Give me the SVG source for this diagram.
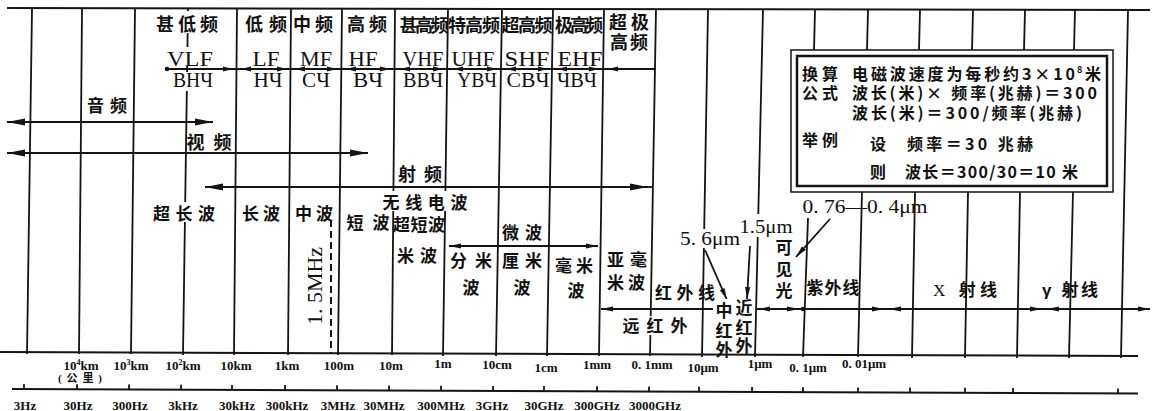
<svg xmlns="http://www.w3.org/2000/svg" width="1153" height="411" viewBox="0 0 1153 411">
<style>
.ln{stroke:#141414;stroke-width:1.8;fill:none}
.ax{stroke:#141414;stroke-width:2;fill:none}
.ds{stroke:#141414;stroke-width:2;fill:none;stroke-dasharray:7 4}
.bg{fill:#fff}
.cj{font-family:"Liberation Sans","Noto Sans CJK SC",sans-serif;font-weight:700;fill:#111;text-anchor:middle;font-size:18px}
.c17{font-size:17px}
.se{font-family:"Liberation Serif",serif;fill:#111;text-anchor:middle}
.sb{font-family:"Liberation Serif","Noto Sans CJK SC",serif;font-weight:700;fill:#111;text-anchor:middle;font-size:13px}
.bx{font-family:"Noto Sans CJK SC",sans-serif;font-weight:700;fill:#111;font-size:16px}
</style>
<defs>
<marker id="mb" markerUnits="userSpaceOnUse" markerWidth="18" markerHeight="8" refX="18" refY="4" orient="auto-start-reverse" viewBox="0 0 18 8"><path d="M0,0.6 L18,4 L0,7.4 Z" fill="#141414"/></marker>
<marker id="mm" markerUnits="userSpaceOnUse" markerWidth="12" markerHeight="6" refX="12" refY="3" orient="auto-start-reverse" viewBox="0 0 12 6"><path d="M0,0.4 L12,3 L0,5.6 Z" fill="#141414"/></marker>
<marker id="ms" markerUnits="userSpaceOnUse" markerWidth="10" markerHeight="6" refX="10" refY="3" orient="auto-start-reverse" viewBox="0 0 10 6"><path d="M0,0.5 L10,3 L0,5.5 Z" fill="#141414"/></marker>
</defs>

<g id="grid">
<line class="ax" x1="7" y1="8" x2="1150" y2="10"/>
<line class="ln" x1="32" y1="9" x2="27" y2="354"/>
<line class="ln" x1="82" y1="9" x2="79" y2="354"/>
<line class="ln" x1="135" y1="9" x2="131" y2="354"/>
<line class="ln" x1="188" y1="9" x2="183" y2="355"/>
<line class="ln" x1="237" y1="9" x2="234" y2="355"/>
<line class="ln" x1="291" y1="9" x2="288" y2="355"/>
<line class="ln" x1="342" y1="9" x2="338" y2="355"/>
<line class="ln" x1="395" y1="9" x2="392" y2="355"/>
<line class="ln" x1="448" y1="9" x2="443" y2="356"/>
<line class="ln" x1="502" y1="9" x2="496" y2="356"/>
<line class="ln" x1="553" y1="9" x2="547" y2="356"/>
<line class="ln" x1="604" y1="9" x2="599" y2="356"/>
<line class="ln" x1="656" y1="9" x2="650" y2="356"/>
<line class="ln" x1="708" y1="9" x2="702" y2="357"/>
<line class="ln" x1="763" y1="9" x2="755" y2="357"/>
<line class="ln" x1="815" y1="10" x2="814" y2="50"/>
<line class="ln" x1="808" y1="218" x2="803" y2="357"/>
<line class="ln" x1="868" y1="10" x2="867" y2="50"/>
<line class="ln" x1="862" y1="192" x2="858" y2="357"/>
<line class="ln" x1="920" y1="10" x2="919" y2="50"/>
<line class="ln" x1="915" y1="192" x2="912" y2="358"/>
<line class="ln" x1="973" y1="10" x2="972" y2="50"/>
<line class="ln" x1="968" y1="192" x2="965" y2="358"/>
<line class="ln" x1="1025" y1="10" x2="1024" y2="50"/>
<line class="ln" x1="1020" y1="192" x2="1017" y2="358"/>
<line class="ln" x1="1075" y1="10" x2="1074" y2="50"/>
<line class="ln" x1="1073" y1="192" x2="1069" y2="358"/>
<line class="ln" x1="1128" y1="10" x2="1121" y2="358"/>
<line class="ds" x1="331" y1="220" x2="331" y2="353"/>
<line class="ax" x1="0" y1="352" x2="1138" y2="356"/>
<line class="ax" x1="12" y1="389" x2="1138" y2="393.5"/>
<path class="ln" d="M24,384v5 M77,384.3v5 M129,384.5v5 M181,384.7v5 M232,384.9v5 M285,385.1v5 M337,385.3v5 M389,385.5v5 M441,385.7v5 M493,385.9v5 M544,386.1v5 M597,386.3v5 M649,386.5v5 M699,386.7v5 M752,386.9v5 M803,387.2v5 M858,387.4v5 M910,387.6v5 M965,387.8v5 M1013,388v5 M1118,388.4v5"/>
</g>

<g id="connectors">
<line class="ln" x1="166" y1="69" x2="656" y2="69"/>
<line class="ln" x1="167" y1="69" x2="233" y2="69" marker-end="url(#ms)"/>
<circle cx="167" cy="69" r="2.3" fill="#141414"/>
<line class="ln" x1="241" y1="69" x2="287" y2="69" marker-start="url(#ms)" marker-end="url(#ms)"/>
<line class="ln" x1="295" y1="69" x2="337" y2="69" marker-start="url(#ms)" marker-end="url(#ms)"/>
<line class="ln" x1="346" y1="69" x2="390" y2="69" marker-start="url(#ms)" marker-end="url(#ms)"/>
<line class="ln" x1="400" y1="69" x2="443" y2="69" marker-start="url(#ms)" marker-end="url(#ms)"/>
<line class="ln" x1="453" y1="69" x2="497" y2="69" marker-start="url(#ms)" marker-end="url(#ms)"/>
<line class="ln" x1="506" y1="69" x2="548" y2="69" marker-start="url(#ms)" marker-end="url(#ms)"/>
<line class="ln" x1="557" y1="69" x2="599" y2="69" marker-start="url(#ms)" marker-end="url(#ms)"/>
<line class="ln" x1="608" y1="69" x2="656" y2="69" marker-start="url(#ms)"/>
<line class="ln" x1="7" y1="122" x2="213" y2="122" marker-start="url(#mb)" marker-end="url(#mb)"/>
<line class="ln" x1="7" y1="153" x2="368" y2="153" marker-start="url(#mb)" marker-end="url(#mb)"/>
<line class="ln" x1="205" y1="187" x2="648" y2="187" marker-start="url(#mb)" marker-end="url(#mb)"/>
<line class="ln" x1="648" y1="187" x2="653" y2="187"/>
<line class="ln" x1="449" y1="246" x2="598" y2="246" marker-start="url(#mm)" marker-end="url(#mm)"/>
<line class="ln" x1="601" y1="309" x2="754" y2="309" marker-start="url(#mm)"/>
<line class="ln" x1="756" y1="309" x2="1150" y2="309"/>
<line class="ln" x1="758" y1="309" x2="799" y2="309" marker-start="url(#mm)" marker-end="url(#mm)"/>
<circle cx="803" cy="309" r="2.3" fill="#141414"/>
<line class="ln" x1="803" y1="309" x2="884" y2="309" marker-end="url(#mm)"/>
<line class="ln" x1="889" y1="309" x2="1042" y2="309" marker-start="url(#mm)" marker-end="url(#mm)"/>
<line class="ln" x1="1047" y1="309" x2="1150" y2="309" marker-start="url(#mm)" marker-end="url(#mm)"/>
<line class="ln" x1="705" y1="250" x2="727" y2="300" marker-end="url(#mm)"/>
<line class="ln" x1="750" y1="246" x2="747" y2="299" marker-end="url(#mm)"/>
<line class="ln" x1="830" y1="219" x2="796" y2="257" marker-end="url(#mm)"/>
</g>

<g id="masks">
<rect class="bg" x="156" y="11" width="63" height="22"/>
<rect class="bg" x="167" y="47" width="47" height="19"/>
<rect class="bg" x="172" y="72" width="43" height="19"/>
<rect class="bg" x="152" y="202" width="65" height="20"/>
<rect class="bg" x="382" y="191" width="88" height="20"/>
<rect class="bg" x="679" y="229" width="62" height="19"/>
<rect class="bg" x="739" y="214" width="56" height="23"/>
<rect class="bg" x="620" y="316" width="70" height="19"/>
<rect class="bg" x="713" y="299" width="41" height="21"/>
</g>

<g id="formula-box">
<rect x="791" y="50" width="322" height="142" fill="#fff" stroke="#141414" stroke-width="1.5"/>
<rect x="797" y="56" width="310" height="130" fill="none" stroke="#141414" stroke-width="2.5"/>
<text class="bx" x="802" y="80" textLength="36">换算</text>
<text class="bx" x="852" y="80" textLength="223">电磁波速度为每秒约3×10</text>
<text class="bx" x="1077" y="73" style="font-size:9px">8</text>
<text class="bx" x="1085" y="80">米</text>
<text class="bx" x="802" y="99" textLength="36">公式</text>
<text class="bx" x="852" y="99" textLength="245">波长(米)× 频率(兆赫)＝300</text>
<text class="bx" x="852" y="119" textLength="230">波长(米)＝300/频率(兆赫)</text>
<text class="bx" x="802" y="146" textLength="36">举例</text>
<text class="bx" x="870" y="150">设</text>
<text class="bx" x="907" y="150" textLength="126">频率＝30 兆赫</text>
<text class="bx" x="870" y="178">则</text>
<text class="bx" x="905" y="178" textLength="173">波长＝300/30＝10 米</text>
</g>

<g id="bands">
<text class="cj" x="187" y="30.5" textLength="62">甚低频</text>
<text class="cj" x="266" y="30.5" textLength="42">低频</text>
<text class="cj" x="313" y="30.5" textLength="40">中频</text>
<text class="cj" x="367" y="30.5" textLength="40">高频</text>
<text class="cj" x="424" y="31.5" textLength="49">甚高频</text>
<text class="cj" x="474" y="31.5" textLength="52">特高频</text>
<text class="cj" x="527" y="31.5" textLength="51">超高频</text>
<text class="cj" x="579" y="31.5" textLength="48">极高频</text>
<text class="cj" x="629" y="28.5" textLength="40">超极</text>
<text class="cj" x="629" y="48.5" textLength="38">高频</text>
<g class="se" style="font-size:22px">
<text x="190" y="65.5" textLength="46" lengthAdjust="spacingAndGlyphs">VLF</text>
<text x="266" y="65.5" textLength="27" lengthAdjust="spacingAndGlyphs">LF</text>
<text x="316" y="65.5" textLength="32" lengthAdjust="spacingAndGlyphs">MF</text>
<text x="363" y="65.5" textLength="29" lengthAdjust="spacingAndGlyphs">HF</text>
<text x="423" y="65.5" textLength="41" lengthAdjust="spacingAndGlyphs">VHF</text>
<text x="473" y="65.5" textLength="43" lengthAdjust="spacingAndGlyphs">UHF</text>
<text x="527" y="65.5" textLength="45" lengthAdjust="spacingAndGlyphs">SHF</text>
<text x="580" y="65.5" textLength="45" lengthAdjust="spacingAndGlyphs">EHF</text>
</g>
<g class="se" style="font-size:20px">
<text x="193" y="87" textLength="40" lengthAdjust="spacingAndGlyphs">BHЧ</text>
<text x="268" y="87" textLength="29" lengthAdjust="spacingAndGlyphs">HЧ</text>
<text x="316" y="87" textLength="28" lengthAdjust="spacingAndGlyphs">CЧ</text>
<text x="368" y="87" textLength="30" lengthAdjust="spacingAndGlyphs">BЧ</text>
<text x="423" y="87" textLength="40" lengthAdjust="spacingAndGlyphs">BBЧ</text>
<text x="477" y="87" textLength="40" lengthAdjust="spacingAndGlyphs">YBЧ</text>
<text x="528" y="87" textLength="43" lengthAdjust="spacingAndGlyphs">CBЧ</text>
<text x="577" y="87" textLength="40" lengthAdjust="spacingAndGlyphs">ЧBЧ</text>
</g>
</g>

<g id="ranges">
<text class="cj c17" x="107" y="111.5" textLength="40">音频</text>
<text class="cj" x="209" y="148.5" textLength="45">视频</text>
<text class="cj" x="420" y="180.5" textLength="44">射频</text>
<text class="cj c17" x="184" y="219.5" textLength="62">超长波</text>
<text class="cj c17" x="261" y="219.5" textLength="38">长波</text>
<text class="cj c17" x="314" y="219.5" textLength="38">中波</text>
<text class="cj c17" x="368" y="228.5" textLength="43">短波</text>
<text class="cj c17" x="425" y="208.5" textLength="85">无线电波</text>
<text class="cj c17" x="419" y="230.5" textLength="52">超短波</text>
<text class="cj c17" x="522" y="239" textLength="40">微波</text>
<text class="cj c17" x="417" y="262" textLength="40">米波</text>
<text class="cj c17" x="471" y="267" textLength="42">分米</text>
<text class="cj c17" x="471" y="293.5">波</text>
<text class="cj c17" x="522" y="267" textLength="40">厘米</text>
<text class="cj c17" x="522" y="293.5">波</text>
<text class="cj c17" x="574" y="271.5" textLength="38">毫米</text>
<text class="cj c17" x="576" y="296.5">波</text>
<text class="cj c17" x="627" y="265.5" textLength="40">亚毫</text>
<text class="cj c17" x="626" y="289" textLength="38">米波</text>
<text class="se" style="font-size:20px" transform="translate(322,286) rotate(-90)" x="0" y="0" textLength="78" lengthAdjust="spacingAndGlyphs">1. 5MHz</text>
<text class="se" style="font-size:19px" x="710" y="245" textLength="60" lengthAdjust="spacingAndGlyphs">5. 6μm</text>
<text class="se" style="font-size:19px" x="766" y="233" textLength="53" lengthAdjust="spacingAndGlyphs">1.5μm</text>
<text class="se" style="font-size:19px" x="865" y="213" textLength="125" lengthAdjust="spacingAndGlyphs">0. 76—0. 4μm</text>
<text class="cj c17" x="685" y="299" textLength="60">红外线</text>
<text class="cj c17" x="655" y="332" textLength="65">远红外</text>
<text class="cj c17" x="724" y="317">中</text>
<text class="cj c17" x="724" y="337">红</text>
<text class="cj c17" x="724" y="356">外</text>
<text class="cj c17" x="744" y="314">近</text>
<text class="cj c17" x="744" y="334">红</text>
<text class="cj c17" x="744" y="352">外</text>
<text class="cj c17" x="784" y="254">可</text>
<text class="cj c17" x="784" y="276">见</text>
<text class="cj c17" x="784" y="297">光</text>
<text class="cj c17" x="833" y="294" textLength="53">紫外线</text>
<text class="cj c17" x="965" y="296" textLength="64"><tspan font-family="Liberation Serif" font-weight="400">X</tspan> 射线</text>
<text class="cj c17" x="1070" y="296" textLength="56">γ 射线</text>
</g>

<g id="wavelength-scale" class="sb">
<text x="81" y="370">10<tspan dy="-5" font-size="8">4</tspan><tspan dy="5">km</tspan></text>
<text x="80" y="382" font-size="11" textLength="44">(公里)</text>
<text x="131" y="370">10<tspan dy="-5" font-size="8">3</tspan><tspan dy="5">km</tspan></text>
<text x="183" y="370">10<tspan dy="-5" font-size="8">2</tspan><tspan dy="5">km</tspan></text>
<text x="236" y="370">10km</text>
<text x="287" y="370">1km</text>
<text x="339" y="370">100m</text>
<text x="391" y="370">10m</text>
<text x="443" y="368">1m</text>
<text x="497" y="369">10cm</text>
<text x="546" y="372">1cm</text>
<text x="597" y="369">1mm</text>
<text x="652" y="369">0. 1mm</text>
<text x="703" y="372">10μm</text>
<text x="760" y="368">1μm</text>
<text x="808" y="372">0. 1μm</text>
<text x="864" y="368">0. 01μm</text>
</g>

<g id="frequency-scale" class="sb">
<text x="25" y="410">3Hz</text>
<text x="78" y="410">30Hz</text>
<text x="130" y="410">300Hz</text>
<text x="183" y="410">3kHz</text>
<text x="237" y="410">30kHz</text>
<text x="287" y="410">300kHz</text>
<text x="338" y="410">3MHz</text>
<text x="384" y="410">30MHz</text>
<text x="441" y="410">300MHz</text>
<text x="492" y="410">3GHz</text>
<text x="544" y="410">30GHz</text>
<text x="597" y="410">300GHz</text>
<text x="655" y="410">3000GHz</text>
</g>
</svg>
